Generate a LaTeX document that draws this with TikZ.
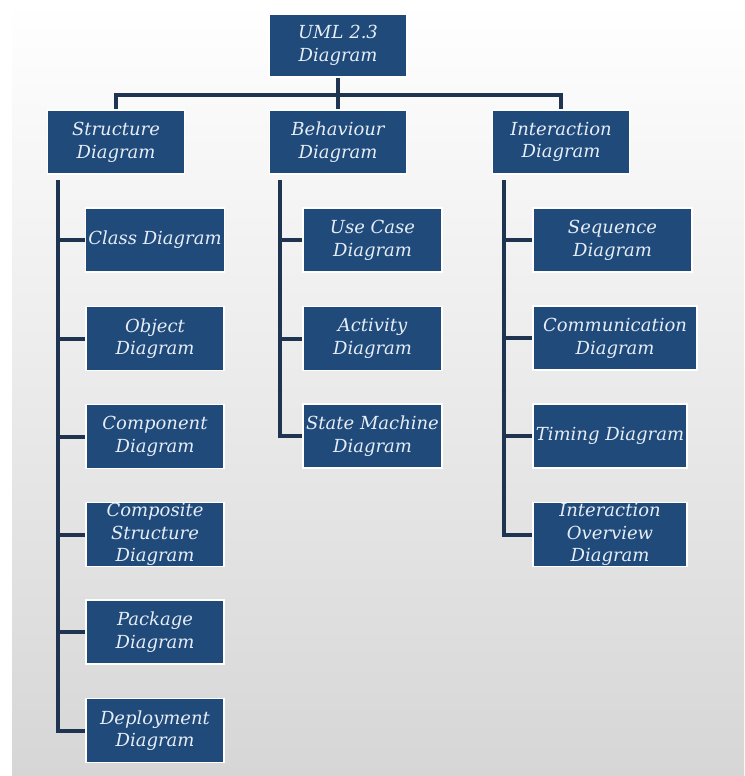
\documentclass[tikz,border=0pt]{standalone}
\usepackage{fontspec}
\setmainfont{DejaVu Serif}
\definecolor{boxblue}{RGB}{31,74,122}
\definecolor{wireblue}{RGB}{30,52,80}
\definecolor{textblue}{RGB}{230,237,246}
\definecolor{bggrey}{RGB}{214,214,214}
\tikzset{
  diag/.style={draw=white, line width=1.2pt, fill=boxblue, text=textblue,
    align=center, inner sep=2pt, minimum height=48pt, minimum width=103.5pt,
    font=\itshape\fontsize{13.5}{17}\selectfont},
  tall/.style={inner ysep=-3pt},
  wire/.style={draw=wireblue, line width=3pt}
}
\begin{document}
\begin{tikzpicture}[x=0.75pt, y=-0.75pt]
\useasboundingbox (0,0) rectangle (744,776);
\shade[top color=white, bottom color=bggrey] (12,0) rectangle (744,776);
% top and second row
\node[diag, minimum height=47.25pt] (uml) at (338,45.5) {UML 2.3\\Diagram};
\node[diag, minimum width=103pt] (struct) at (116,142) {Structure\\Diagram};
\node[diag, minimum width=103pt] (behav) at (338,142) {Behaviour\\Diagram};
\node[diag, minimum width=103pt] (inter) at (561,142) {Interaction\\Diagram};
\coordinate (bus) at (338,95);
\draw[wire] (struct.north) |- (bus) -| (inter.north);
\draw[wire] (uml) -- (behav);
% structure diagrams
\node[diag] (class) at (155,240) {Class Diagram};
\node[diag] (object) at (155,338.5) {Object\\Diagram};
\node[diag] (component) at (155,436.5) {Component\\Diagram};
\node[diag, tall] (composite) at (155,534.5) {Composite\\Structure\\Diagram};
\node[diag] (package) at (155,632) {Package\\Diagram};
\node[diag] (deploy) at (155,730.5) {Deployment\\Diagram};
\coordinate (s0) at (58,180);
\foreach \n in {class,object,component,composite,package,deploy}
  \draw[wire] (s0) |- (\n.west);
% behaviour diagrams
\node[diag, minimum width=104pt] (usecase) at (372.5,240) {Use Case\\Diagram};
\node[diag, minimum width=104pt] (activity) at (372.5,338.5) {Activity\\Diagram};
\node[diag, minimum width=104pt] (state) at (372.5,436) {State Machine\\Diagram};
\coordinate (b0) at (280,180);
\foreach \n in {usecase,activity,state}
  \draw[wire] (b0) |- (\n.west);
% interaction diagrams
\node[diag, minimum width=119pt] (sequence) at (612.5,240) {Sequence\\Diagram};
\node[diag, minimum width=123pt] (comm) at (615,338) {Communication\\Diagram};
\node[diag, minimum width=115.5pt] (timing) at (610,436) {Timing Diagram};
\node[diag, tall, minimum width=115.5pt] (overview) at (610,534.5) {Interaction\\Overview\\Diagram};
\coordinate (i0) at (504,180);
\foreach \n in {sequence,comm,timing,overview}
  \draw[wire] (i0) |- (\n.west);
\end{tikzpicture}
\end{document}
